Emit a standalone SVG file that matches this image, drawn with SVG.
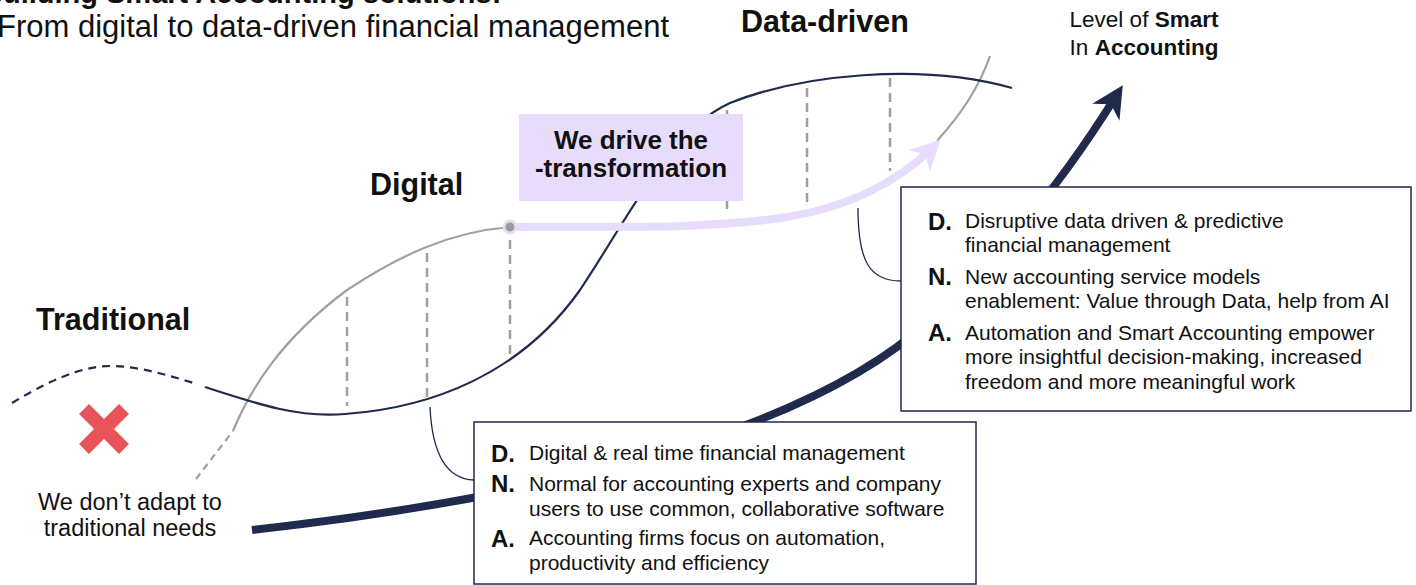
<svg xmlns="http://www.w3.org/2000/svg" width="1416" height="585" viewBox="0 0 1416 585">
<style>
text{font-family:"Liberation Sans","Noto Sans",Arial,sans-serif;fill:#111;}
.h{font-weight:bold;font-size:30.5px;}
.t{font-size:21px;}
.l{font-weight:bold;font-size:24px;}
.navy{fill:none;stroke:#1f2a4c;stroke-width:2.2;}
.gray{fill:none;stroke:#a0a0a0;stroke-width:2.2;}
.vd{stroke:#a0a0a0;stroke-width:2.5;stroke-dasharray:9 6;}
.box{fill:#fff;stroke:#1f2a4c;stroke-width:1.5;}
</style>
<defs>
<marker id="ah" viewBox="0 0 10 10" refX="6" refY="5" markerWidth="4" markerHeight="4" orient="auto" markerUnits="strokeWidth">
<path d="M0 0 L10 5 L0 10 L3 5 Z" fill="#1f2a4c"/>
</marker>
<marker id="lh" viewBox="0 0 10 10" refX="6" refY="5" markerWidth="3.8" markerHeight="3.8" orient="auto" markerUnits="strokeWidth">
<path d="M0 0 L10 5 L0 10 L3 5 Z" fill="#e8dcfd"/>
</marker>
</defs>
<g id="title">
<text x="-18" y="3" style="font-weight:bold;font-size:29px">Building Smart Accounting solutions:</text>
<text x="-3" y="37" style="font-size:31px">From digital to data-driven financial management</text>
</g>
<g id="connectors">
<path class="gray" d="M196 479 L233 431" style="stroke-dasharray:7 5"/>
<path class="gray" d="M233 431 C250 390 280 340 347 290 C400 255 450 232 510 227"/>
<path class="gray" d="M937 141 C960 115 978 90 990 56"/>
<path class="navy" d="M12 403 C45 383 80 366 110 366 C140 366 170 376 197 384" style="stroke-dasharray:8 6"/>
<path class="navy" d="M205 387 C260 405 300 418 345 414 C430 408 520 375 580 290 C630 215 670 130 730 103 C800 75 920 62 1012 88"/>
<line class="vd" x1="347" y1="297" x2="347" y2="406"/>
<line class="vd" x1="427" y1="253" x2="427" y2="398"/>
<line class="vd" x1="510" y1="240" x2="510" y2="358"/>
<line class="vd" x1="727" y1="110" x2="727" y2="215"/>
<line class="vd" x1="807" y1="88" x2="807" y2="207"/>
<line class="vd" x1="890" y1="78" x2="890" y2="171"/>
<path d="M252 530 C520 500 800 440 930 320 C1010 250 1070 170 1116 96" fill="none" stroke="#1f2a4c" stroke-width="8" marker-end="url(#ah)"/>
<path d="M430 407 C432 450 445 479 474 480" fill="none" stroke="#1f2a4c" stroke-width="1.3"/>
<path d="M858 208 C858 262 870 281 901 281" fill="none" stroke="#1f2a4c" stroke-width="1.3"/>
<path d="M510 227 C600 226 700 230 780 218 C850 208 900 180 932 148" fill="none" stroke="#e8dcfd" stroke-width="8" marker-end="url(#lh)"/>
<circle cx="510" cy="227" r="6" fill="#9b9b9b" stroke="#e8dcfd" stroke-width="3"/>
</g>
<g id="x-mark">
<path d="M84 409 L124 449 M124 409 L84 449" stroke="#e9545a" stroke-width="14"/>
</g>
<g id="traditional">
<text class="h" x="36" y="330">Traditional</text>
<text x="130" y="510" text-anchor="middle" style="font-size:23.5px">We don’t adapt to</text>
<text x="130" y="536" text-anchor="middle" style="font-size:23.5px">traditional needs</text>
</g>
<g id="digital">
<text class="h" x="370" y="195">Digital</text>
</g>
<g id="data-driven">
<text class="h" x="741" y="32">Data-driven</text>
</g>
<g id="level">
<text x="1144" y="27" text-anchor="middle" style="font-size:22.5px">Level of <tspan font-weight="bold">Smart</tspan></text>
<text x="1144" y="55" text-anchor="middle" style="font-size:22.5px">In <tspan font-weight="bold">Accounting</tspan></text>
</g>
<g id="transformation">
<rect x="519" y="114" width="224" height="87" fill="#e8dcfd"/>
<text x="631" y="149" text-anchor="middle" style="font-weight:bold;font-size:26px">We drive the</text>
<text x="631" y="177" text-anchor="middle" style="font-weight:bold;font-size:26px">-transformation</text>
</g>
<g id="box-digital">
<rect class="box" x="474" y="422" width="502" height="162"/>
<text class="l" x="491" y="462">D.</text>
<text class="t" x="529" y="460">Digital &amp; real time financial management</text>
<text class="l" x="491" y="492">N.</text>
<text class="t" x="529" y="491">Normal for accounting experts and company</text>
<text class="t" x="529" y="516">users to use common, collaborative software</text>
<text class="l" x="491" y="547">A.</text>
<text class="t" x="529" y="545">Accounting firms focus on automation,</text>
<text class="t" x="529" y="570">productivity and efficiency</text>
</g>
<g id="box-data">
<rect class="box" x="901" y="187" width="510" height="224"/>
<text class="l" x="928" y="230">D.</text>
<text class="t" x="965" y="228">Disruptive data driven &amp; predictive</text>
<text class="t" x="965" y="252">financial management</text>
<text class="l" x="928" y="285">N.</text>
<text class="t" x="965" y="284">New accounting service models</text>
<text class="t" x="965" y="308">enablement: Value through Data, help from AI</text>
<text class="l" x="928" y="341">A.</text>
<text class="t" x="965" y="340">Automation and Smart Accounting empower</text>
<text class="t" x="965" y="364">more insightful decision-making, increased</text>
<text class="t" x="965" y="389">freedom and more meaningful work</text>
</g>
</svg>
